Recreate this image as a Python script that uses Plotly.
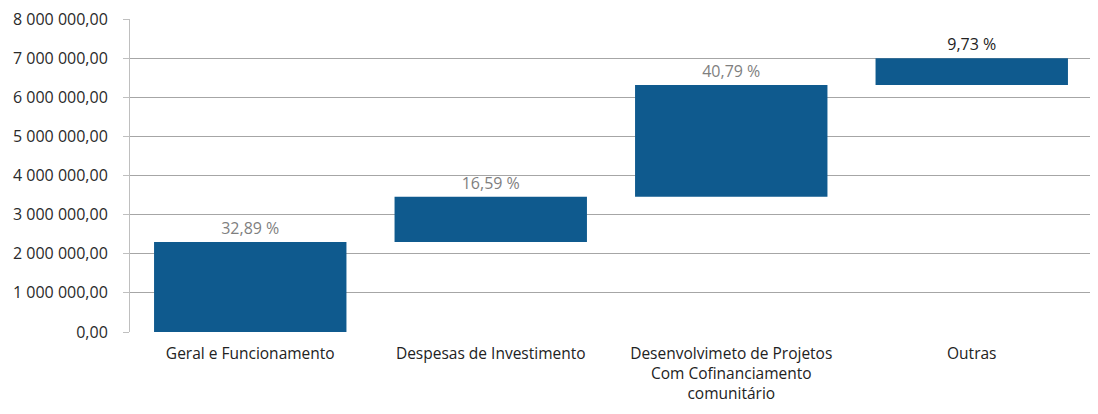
import plotly.graph_objects as go

categories = ["Geral e Funcionamento", "Despesas de Investimento",
              "Desenvolvimeto de Projetos<br>Com Cofinanciamento<br>comunitário", "Outras"]
values = [2300000, 1160000, 2855000, 681000]
pct_labels = ["32,89 %", "16,59 %", "40,79 %", "9,73 %"]
label_colors = ["#7f7f7f", "#7f7f7f", "#7f7f7f", "#222222"]

fig = go.Figure()
fig.add_trace(go.Waterfall(
    x=categories,
    y=values,
    measure=["relative"] * len(values),
    text=pct_labels,
    textposition="outside",
    textfont=dict(size=16, color=label_colors, family="Open Sans"),
    increasing=dict(marker=dict(color="#0f5a8e")),
    connector=dict(visible=False),
    cliponaxis=False,
    hoverinfo="skip",
))

fig.update_layout(
    width=1090, height=406,
    margin=dict(l=122, r=6, t=11, b=82),
    paper_bgcolor="white", plot_bgcolor="white",
    separators=", ",
    showlegend=False,
    bargap=0.17,
    font=dict(family="Open Sans", size=15, color="#222222"),
)
fig.update_yaxes(
    range=[0, 8000000], dtick=1000000, tickformat=",.2f",
    showgrid=True, gridcolor="#a6a6a6", gridwidth=1,
    showline=True, linecolor="#bfbfbf", ticks="outside", tickcolor="#bfbfbf", ticklen=6,
    tickfont=dict(size=16, color="#2a2a2a", family="Open Sans"),
    ticklabelstandoff=12, ticklabeloverflow="allow",
    zeroline=False, automargin=False,
)
fig.update_xaxes(
    showline=False, ticks="", tickfont=dict(size=15.5, color="#222222", family="Open Sans"),
    ticklabelstandoff=10, automargin=False, ticklabeloverflow="allow",
)

fig.write_html("out.html")
